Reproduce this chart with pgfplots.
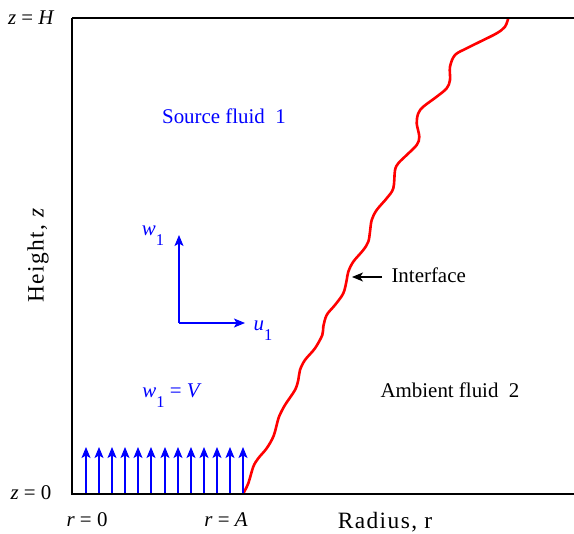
\documentclass[border=0pt]{standalone}
\usepackage{fontspec}
\setmainfont{Liberation Serif}
\newfontfamily\widefont[LetterSpace=6]{Liberation Serif}
\usepackage{pgfplots}
\pgfplotsset{compat=1.18}
\usetikzlibrary{arrows.meta}

\newcommand{\sub}[1]{\raisebox{-10bp}{\fontsize{16.5}{18}\selectfont #1}}

\begin{document}
\begin{tikzpicture}[font=\fontsize{21}{25}\selectfont]
\begin{axis}[
  scale only axis, width=502bp, height=476bp,
  xmin=-14, xmax=488, ymin=0, ymax=476,
  axis line style={draw=none},
  xtick=\empty, ytick=\empty,
  clip=false,
]
% interface between source and ambient fluid
\addplot[red, line width=2.6bp, smooth, tension=0.55] coordinates {
 (157,0) (162.3,10.7) (167.3,27.3) (172.3,35.7) (180.7,45.7) (187.3,57.3)
 (190.7,69) (193,77.3) (199,89) (209,104) (212.3,114) (214,124) (219,134)
 (229,145.7) (236.3,159) (237.3,167.3) (240.7,179) (249,189) (257.3,200.7)
 (260.7,214) (262.3,222.3) (267.3,232.3) (277.3,244) (282.3,252.3)
 (284,262.3) (285.7,274) (290.7,284) (300.7,295.7) (307.3,305.7)
 (309,323.7) (312.3,330.7) (320.7,339) (330.7,349) (333.3,357.3)
 (330.7,370.7) (332.3,380.7) (337.3,387.3) (350.7,397.3) (360.7,405.7)
 (364,414) (364,427.3) (369,439) (380.7,445.7) (394,452.3) (410.7,460.7)
 (419,467.3) (422.3,476)
};
% inflow w1 = V across the source, 0 <= r <= A
\addplot[blue, line width=1.2bp, mark=none, quiver={u=0, v=47},
  -{Stealth[length=11bp, width=9bp, inset=2.5bp]}] coordinates {
 (0,0) (13,0) (26,0) (39,0) (52,0) (65,0) (79,0) (92,0) (105,0)
 (118,0) (131,0) (144,0) (157,0)
};
% velocity components in fluid 1
\addplot[blue, line width=1.2bp, -{Stealth[length=11bp, width=9bp, inset=2.5bp]}]
  coordinates {(93,171) (93,259)};
\addplot[blue, line width=1.2bp, -{Stealth[length=11bp, width=9bp, inset=2.5bp]}]
  coordinates {(93,171) (159,171)};
% pointer to the interface
\addplot[black, line width=1.2bp, -{Stealth[length=11bp, width=9bp, inset=3bp]}]
  coordinates {(296,217) (266,217)};

% frame
\draw[line width=1.3bp] (rel axis cs:0,1) -- (rel axis cs:1,1);
\draw[line width=2bp, line join=miter] (rel axis cs:0,1) -- (rel axis cs:0,0) -- (rel axis cs:1,0);

% labels inside
\node[blue] at (axis cs:138,378) {Source fluid~~1};
\node[blue] at (axis cs:67,258) {\textit{w}\sub{1}};
\node[blue] at (axis cs:177,163) {\textit{u}\sub{1}};
\node[blue] at (axis cs:86,98) {\textit{w}\sub{1} = \textit{V}};
\node[anchor=west] at (axis cs:302,219) {Interface};
\node at (axis cs:364,104) {Ambient fluid~~2};

% labels outside
\node[anchor=east] at ([xshift=-14bp]axis cs:-14,476) {\textit{z} = \textit{H}};
\node[anchor=east] at ([xshift=-17bp]axis cs:-14,1) {\textit{z} = 0};
\node at ([yshift=-26bp]axis cs:1,0) {\textit{r} = 0};
\node at ([yshift=-26bp]axis cs:140,0) {\textit{r} = \textit{A}};
\node[font=\fontsize{23.5}{27}\widefont] at ([yshift=-28bp]axis cs:299,0) {Radius, r};
\node[rotate=90, font=\fontsize{23.5}{27}\widefont] at ([xshift=-34bp]axis cs:-14,239) {Height, \textit{z}};
\end{axis}
\pgfresetboundingbox
\path ([shift={(-72bp,-40bp)}]current axis.south west) rectangle ([shift={(0bp,18bp)}]current axis.north east);
\end{tikzpicture}
\end{document}
